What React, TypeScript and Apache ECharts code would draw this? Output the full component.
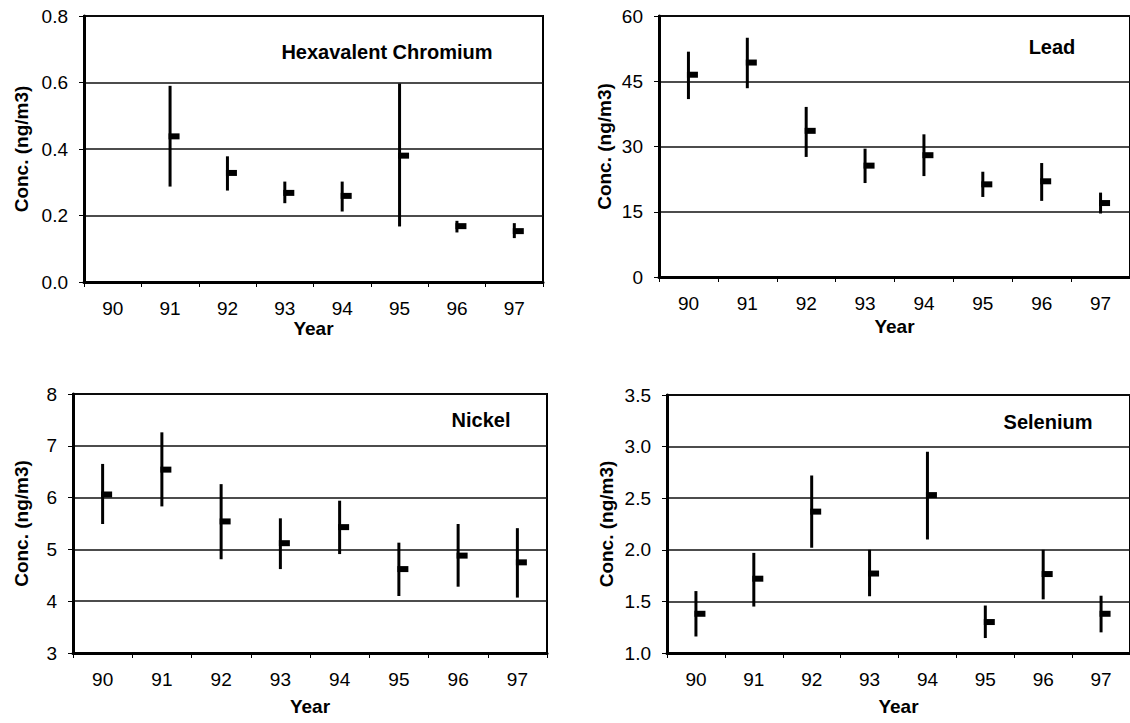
import React, { useEffect, useRef } from "react";
import * as echarts from "echarts";

const years = ["90", "91", "92", "93", "94", "95", "96", "97"];

const chromiumLow = [null, 0.287, 0.275, 0.237, 0.212, 0.167, 0.149, 0.132];
const chromiumHigh = [null, 0.59, 0.378, 0.302, 0.302, 0.597, 0.184, 0.177];
const chromiumMean = [null, 0.438, 0.328, 0.268, 0.259, 0.38, 0.168, 0.153];

const leadLow = [40.9, 43.4, 27.6, 21.6, 23.2, 18.4, 17.5, 14.6];
const leadHigh = [51.8, 55.0, 39.1, 29.5, 32.8, 24.2, 26.2, 19.4];
const leadMean = [46.5, 49.3, 33.6, 25.6, 28.0, 21.3, 22.0, 17.0];

const nickelLow = [5.49, 5.83, 4.81, 4.62, 4.91, 4.1, 4.28, 4.07];
const nickelHigh = [6.65, 7.26, 6.26, 5.6, 5.94, 5.13, 5.49, 5.41];
const nickelMean = [6.06, 6.54, 5.54, 5.12, 5.43, 4.62, 4.88, 4.75];

const seleniumLow = [1.16, 1.45, 2.02, 1.55, 2.1, 1.145, 1.52, 1.2];
const seleniumHigh = [1.6, 1.97, 2.72, 2.0, 2.95, 1.46, 2.0, 1.555];
const seleniumMean = [1.38, 1.72, 2.37, 1.77, 2.53, 1.3, 1.765, 1.38];

const panelTitles = ["Hexavalent Chromium", "Lead", "Nickel", "Selenium"];
const yMins = [0, 0, 3, 1.0];
const yMaxs = [0.8, 60, 8, 3.5];
const yIntervals = [0.2, 15, 1, 0.5];
const yDecimals = [1, 0, 0, 1];
const yAxisTitle = "Conc. (ng/m3)";
const xAxisTitle = "Year";

const lows = [chromiumLow, leadLow, nickelLow, seleniumLow];
const highs = [chromiumHigh, leadHigh, nickelHigh, seleniumHigh];
const means = [chromiumMean, leadMean, nickelMean, seleniumMean];

const FONT = "'Liberation Sans', Arial, Helvetica, sans-serif";

const layout = [
  { left: 84, top: 16, width: 459, height: 266, yNameGap: 53, xNameGap: 36, titleX: 387, titleY: 52 },
  { left: 659, top: 16, width: 472, height: 261, yNameGap: 45, xNameGap: 40, titleX: 1052, titleY: 47 },
  { left: 73, top: 394, width: 474, height: 259, yNameGap: 42, xNameGap: 44, titleX: 481, titleY: 420 },
  { left: 667, top: 395, width: 464, height: 258, yNameGap: 51, xNameGap: 44, titleX: 1048, titleY: 422 },
];

export default function App() {
  const ref = useRef<HTMLDivElement>(null);

  useEffect(() => {
    if (!ref.current) return;
    const chart = echarts.init(ref.current, null, { renderer: "svg" });

    const grid = layout.map((l) => ({
      left: l.left,
      top: l.top,
      width: l.width,
      height: l.height,
      show: true,
      borderColor: "#000",
      borderWidth: 2,
      backgroundColor: "transparent",
    }));

    const xAxis = layout.map((l, i) => ({
      type: "category",
      gridIndex: i,
      data: years,
      boundaryGap: true,
      name: xAxisTitle,
      nameLocation: "middle",
      nameGap: l.xNameGap,
      nameTextStyle: { color: "#000", fontSize: 19, fontWeight: "bold", fontFamily: FONT },
      axisLine: { show: true, lineStyle: { color: "#000", width: 3 } },
      axisTick: { show: true, length: 5, lineStyle: { color: "#000", width: 1 } },
      axisLabel: { color: "#000", fontSize: 19, fontFamily: FONT, margin: 17 },
      splitLine: { show: false },
    }));

    const yAxis = layout.map((l, i) => ({
      type: "value",
      gridIndex: i,
      min: yMins[i],
      max: yMaxs[i],
      interval: yIntervals[i],
      name: yAxisTitle,
      nameLocation: "middle",
      nameGap: l.yNameGap,
      nameTextStyle: { color: "#000", fontSize: 19, fontWeight: "bold", fontFamily: FONT },
      axisLine: { show: true, lineStyle: { color: "#000", width: 3 } },
      axisTick: { show: true, length: 5, lineStyle: { color: "#000", width: 1 } },
      axisLabel: {
        color: "#000",
        fontSize: 19,
        fontFamily: FONT,
        margin: 16,
        formatter: (v: number) => v.toFixed(yDecimals[i]),
      },
      splitLine: { show: true, lineStyle: { color: "#111", width: 1.5 } },
    }));

    const series = layout.map((_, i) => ({
      type: "custom",
      xAxisIndex: i,
      yAxisIndex: i,
      encode: { x: 0, y: [1, 2, 3] },
      data: years
        .map((_, k) => [k, lows[i][k], highs[i][k], means[i][k]])
        .filter((d) => d[1] !== null),
      renderItem: (_params: any, api: any) => {
        const x = api.value(0);
        const pLo = api.coord([x, api.value(1)]);
        const pHi = api.coord([x, api.value(2)]);
        const pM = api.coord([x, api.value(3)]);
        return {
          type: "group",
          children: [
            {
              type: "line",
              shape: { x1: pLo[0], y1: pLo[1], x2: pHi[0], y2: pHi[1] },
              style: { stroke: "#000", lineWidth: 3 },
            },
            {
              type: "rect",
              shape: { x: pM[0] - 1.5, y: pM[1] - 3, width: 11, height: 6 },
              style: { fill: "#000" },
            },
          ],
        };
      },
    }));

    const graphic = layout.map((l, i) => ({
      type: "text",
      x: l.titleX,
      y: l.titleY,
      style: {
        text: panelTitles[i],
        fill: "#000",
        font: `bold 20px ${FONT}`,
        textAlign: "center",
        textVerticalAlign: "middle",
      },
    }));

    chart.setOption({
      animation: false,
      backgroundColor: "#fff",
      grid,
      xAxis,
      yAxis,
      series,
      graphic,
    } as any);

    return () => chart.dispose();
  }, []);

  return (
    <div
      ref={ref}
      style={{ position: "absolute", left: 0, top: 0, width: 1130, height: 723 }}
    />
  );
}
